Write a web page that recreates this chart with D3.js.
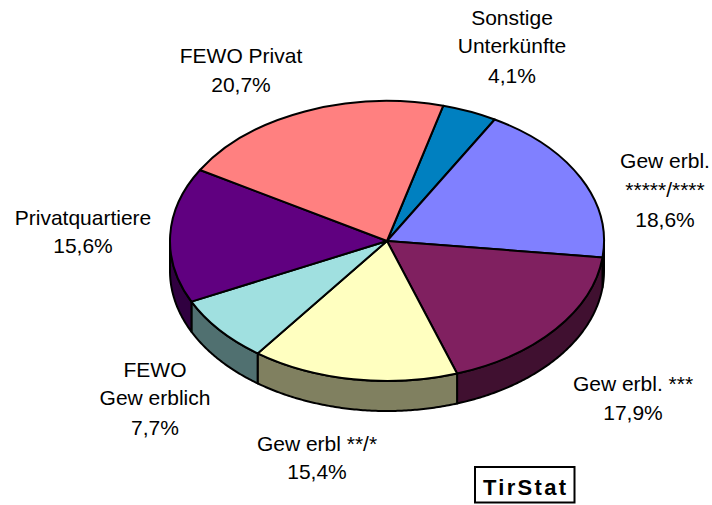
<!DOCTYPE html>
<html>
<head>
<meta charset="utf-8">
<script src="https://cdn.jsdelivr.net/npm/d3@7"></script>
<style>
  html, body { margin: 0; padding: 0; background: #fff; }
  text { font-family: "Liberation Sans", Arial, sans-serif; fill: #000; }
</style>
</head>
<body>
<div id="chart"></div>
<script>
const categories = [
  ['Sonstige', 'Unterkünfte'],
  ['Gew erbl.', '*****/****'],
  ['Gew erbl. ***'],
  ['Gew erbl **/*'],
  ['FEWO', 'Gew erblich'],
  ['Privatquartiere'],
  ['FEWO Privat'],
];
const values = [4.1, 18.6, 17.9, 15.4, 7.7, 15.6, 20.7];
const topColors = ['#0080c0', '#8080ff', '#802060', '#ffffc0', '#a0e0e0', '#600080', '#ff8080'];
const sideColors = ['#004060', '#404080', '#401030', '#808060', '#507070', '#300040', '#804040'];

// centre x and the baselines of each label's lines
const labelX = [512, 665, 633, 317, 155, 83, 241];
const labelY = [
  [25, 53, 83],
  [168, 197, 227],
  [391, 420],
  [451, 479],
  [377, 405, 435],
  [225, 253],
  [63, 92],
];

const width = 712;
const height = 505;
const cx = 387;
const cy = 241;
const rx = 217;
const ry = 140;
const depth = 30;
const fontSize = 21;

const svg = d3
  .select('#chart')
  .append('svg')
  .attr('width', width)
  .attr('height', height)
  .style('display', 'block');

const pie = d3
  .pie()
  .sort(null)
  .startAngle((15 * Math.PI) / 180)
  .endAngle((375 * Math.PI) / 180);
const slices = pie(values);

const px = (a) => cx + rx * Math.sin(a);
const py = (a) => cy - ry * Math.cos(a);

// side wall, only the front half of the ellipse is visible
const wall = d3
  .area()
  .x((a) => px(a))
  .y0((a) => py(a))
  .y1((a) => py(a) + depth);

const sides = svg.append('g');
slices.forEach((s, i) => {
  const from = Math.max(s.startAngle, Math.PI / 2);
  const to = Math.min(s.endAngle, (3 * Math.PI) / 2);
  if (from >= to) return;
  sides
    .append('path')
    .attr('d', wall(d3.range(from, to, 0.01).concat(to)) + 'Z')
    .attr('fill', sideColors[i])
    .attr('stroke', '#000')
    .attr('stroke-width', 2)
    .attr('stroke-linejoin', 'round');
});

const arc = d3.arc().innerRadius(0).outerRadius(rx);
svg
  .append('g')
  .attr('transform', `translate(${cx},${cy}) scale(1,${ry / rx})`)
  .selectAll('path')
  .data(slices)
  .enter()
  .append('path')
  .attr('d', arc)
  .attr('fill', (d, i) => topColors[i])
  .attr('stroke', '#000')
  .attr('stroke-width', 2)
  .attr('stroke-linejoin', 'round')
  .attr('vector-effect', 'non-scaling-stroke');

const fmt = (v) => d3.format('.1f')(v).replace('.', ',') + '%';

const labels = svg
  .selectAll('.label')
  .data(values)
  .enter()
  .append('text')
  .attr('class', 'label')
  .attr('text-anchor', 'middle')
  .attr('font-size', fontSize);

labels.each(function (d, i) {
  const lines = categories[i].concat(fmt(d));
  d3.select(this)
    .selectAll('tspan')
    .data(lines)
    .enter()
    .append('tspan')
    .attr('x', labelX[i])
    .attr('y', (l, j) => labelY[i][j])
    .text((l) => l);
});

svg
  .append('rect')
  .attr('x', 475)
  .attr('y', 467)
  .attr('width', 99.5)
  .attr('height', 35.5)
  .attr('fill', '#fff')
  .attr('stroke', '#000')
  .attr('stroke-width', 2);

svg
  .append('text')
  .attr('x', 483)
  .attr('y', 495)
  .attr('font-size', 22)
  .attr('font-weight', 'bold')
  .attr('letter-spacing', 2.3)
  .text('TirStat');
</script>
</body>
</html>
